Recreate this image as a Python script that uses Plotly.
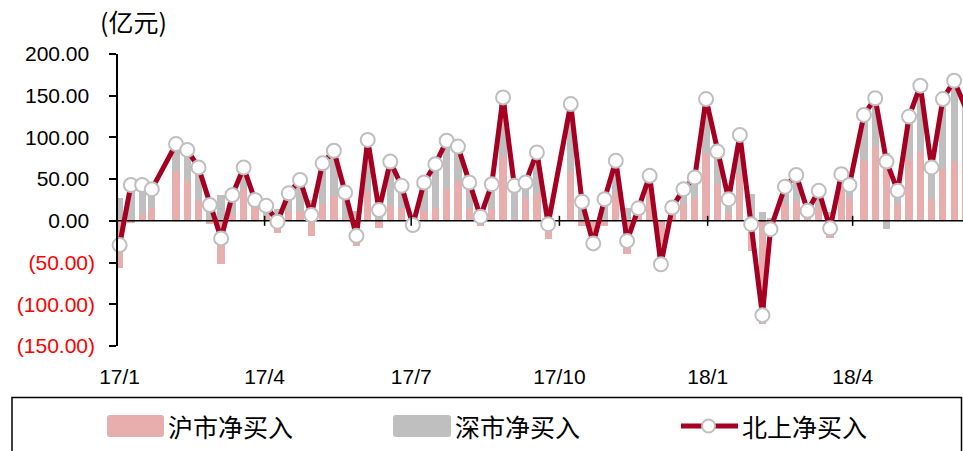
import plotly.graph_objects as go

# ---------------- data ----------------
dates = [
    "2017-01-06", "2017-01-13", "2017-01-20", "2017-01-26", "2017-02-10", "2017-02-17",
    "2017-02-24", "2017-03-03", "2017-03-10", "2017-03-17", "2017-03-24", "2017-03-31",
    "2017-04-07", "2017-04-14", "2017-04-21", "2017-04-28", "2017-05-05", "2017-05-12",
    "2017-05-19", "2017-05-26", "2017-06-02", "2017-06-09", "2017-06-16", "2017-06-23",
    "2017-06-30", "2017-07-07", "2017-07-14", "2017-07-21", "2017-07-28", "2017-08-04",
    "2017-08-11", "2017-08-18", "2017-08-25", "2017-09-01", "2017-09-08", "2017-09-15",
    "2017-09-22", "2017-09-29", "2017-10-13", "2017-10-20", "2017-10-27", "2017-11-03",
    "2017-11-10", "2017-11-17", "2017-11-24", "2017-12-01", "2017-12-08", "2017-12-15",
    "2017-12-22", "2017-12-29", "2018-01-05", "2018-01-12", "2018-01-19", "2018-01-26",
    "2018-02-02", "2018-02-09", "2018-02-14", "2018-02-23", "2018-03-02", "2018-03-09",
    "2018-03-16", "2018-03-23", "2018-03-30", "2018-04-04", "2018-04-13", "2018-04-20",
    "2018-04-27", "2018-05-04", "2018-05-11", "2018-05-18", "2018-05-25", "2018-06-01",
    "2018-06-08", "2018-06-15",
]
hu_net = [
    -56, -3, 8, 16, 60, 48, 24, -4, -52, 8, 38, 18,
    6, -15, 12, 12, -18, 20, 30, 4, -30, 36, -8, 18,
    16, -8, 12, 16, 38, 48, 16, -6, 14, 78, 2, 28,
    32, -22, 60, -6, -20, -6, 32, -40, 6, 38, -46, 8,
    20, 28, 80, 44, 10, 56, -36, -124, -13, 20, 24, 6,
    18, -20, 44, 28, 72, 88, 81, 20, 74, 84, 26, 62,
    72, 70,
]
shen_net = [
    27, 46, 35, 22, 32, 37, 40, 23, 31, 23, 26, 7,
    12, 14, 21, 37, 25, 49, 54, 30, 12, 61, 21, 53,
    26, 3, 34, 52, 58, 41, 30, 11, 30, 70, 40, 18,
    50, 18, 80, 29, -7, 32, 40, 16, 9, 16, -6, 8,
    18, 24, 66, 39, 16, 47, 32, 11, 3, 21, 31, 6,
    18, 11, 12, 15, 55, 59, -10, 16, 51, 78, 38, 84,
    96, 66,
]
north_net = [
    -29, 43, 43, 38, 92, 85, 64, 19, -21, 31, 64, 25,
    18, -1, 33, 49, 7, 69, 84, 34, -18, 97, 13, 71,
    42, -5, 46, 68, 96, 89, 46, 5, 44, 148, 42, 46,
    82, -4, 140, 23, -27, 26, 72, -24, 15, 54, -52, 16,
    38, 52, 146, 83, 26, 103, -4, -113, -10, 41, 55, 12,
    36, -9, 56, 43, 127, 147, 71, 36, 125, 162, 64, 146,
    168, 136,
]
series_names = ["沪市净买入", "深市净买入", "北上净买入"]
unit_label = "(亿元)"

x_tick_vals = ["2017-01-06", "2017-04-06", "2017-07-06", "2017-10-06", "2018-01-06", "2018-04-06"]
x_tick_text = ["17/1", "17/4", "17/7", "17/10", "18/1", "18/4"]
y_tick_vals = [-150, -100, -50, 0, 50, 100, 150, 200]

# ---------------- styling ----------------
W, H = 963, 451
L, R, T, B = 118, 0, 54, 105
X_RANGE = ["2017-01-05", "2018-06-13 12:00"]
Y_RANGE = [-150, 200]
PINK = "#E8AEAD"
GRAY = "#BFBFBF"
RED = "#A50021"
NUM_FONT = "Liberation Sans, Arial, sans-serif"
CJK_FONT = "Noto Sans CJK SC, sans-serif"
BAR_W = 4.5 * 86400000  # ms


def y_label(v):
    if v < 0:
        return '<span style="color:#FF0000">(%.2f)</span>' % abs(v)
    return "%.2f\u00a0" % v


def px_x(px):
    return (px - L) / (W - L - R)


def px_y(py):
    return (H - B - py) / (H - T - B)


def rounded_rect(x0, y0, x1, y1, r):
    pts = [
        ("M", [(x0 + r, y0)]), ("L", [(x1 - r, y0)]), ("Q", [(x1, y0), (x1, y0 + r)]),
        ("L", [(x1, y1 - r)]), ("Q", [(x1, y1), (x1 - r, y1)]), ("L", [(x0 + r, y1)]),
        ("Q", [(x0, y1), (x0, y1 - r)]), ("L", [(x0, y0 + r)]), ("Q", [(x0, y0), (x0 + r, y0)]),
    ]
    s = ""
    for cmd, ps in pts:
        s += cmd + " ".join("%.5f,%.5f" % (px_x(a), px_y(b)) for a, b in ps) + " "
    return s + "Z"


fig = go.Figure()
fig.add_trace(go.Bar(x=dates, y=hu_net, name=series_names[0], marker_color=PINK,
                     width=BAR_W, marker_line_width=0, showlegend=False))
fig.add_trace(go.Bar(x=dates, y=shen_net, name=series_names[1], marker_color=GRAY,
                     width=BAR_W, marker_line_width=0, showlegend=False))
# horizontal category axis line at zero (between bars and line)
fig.add_trace(go.Scatter(x=X_RANGE, y=[0, 0], mode="lines", line=dict(color="black", width=1.5),
                         hoverinfo="skip", showlegend=False))
fig.add_trace(go.Scatter(x=dates, y=north_net, name=series_names[2], mode="lines+markers",
                         line=dict(color=RED, width=5),
                         marker=dict(size=14, color="white", line=dict(color=GRAY, width=2)),
                         cliponaxis=False, showlegend=False))

shapes = []
# tick marks crossing the zero line
for tv in x_tick_vals[1:]:
    shapes.append(dict(type="line", xref="x", yref="y", x0=tv, x1=tv, y0=-6, y1=6,
                       line=dict(color="black", width=1.5), layer="above"))
# legend frame
shapes.append(dict(type="rect", xref="paper", yref="paper",
                   x0=px_x(12), x1=px_x(961.5), y0=px_y(460), y1=px_y(397.5),
                   line=dict(color="black", width=1.5), fillcolor="rgba(0,0,0,0)"))
# legend swatches
shapes.append(dict(type="path", xref="paper", yref="paper", path=rounded_rect(107, 415, 164, 437, 3),
                   fillcolor=PINK, line=dict(width=0)))
shapes.append(dict(type="path", xref="paper", yref="paper", path=rounded_rect(393, 415, 451, 437, 3),
                   fillcolor=GRAY, line=dict(width=0)))
shapes.append(dict(type="line", xref="paper", yref="paper", x0=px_x(681), x1=px_x(738),
                   y0=px_y(426), y1=px_y(426), line=dict(color=RED, width=5)))
shapes.append(dict(type="circle", xref="paper", yref="paper", x0=px_x(702), x1=px_x(715),
                   y0=px_y(432.5), y1=px_y(419.5), fillcolor="white", line=dict(color=GRAY, width=2)))

annotations = [
    dict(text=unit_label, xref="paper", yref="paper", x=px_x(98), y=px_y(21), xanchor="left",
         yanchor="middle", showarrow=False, font=dict(family=CJK_FONT, size=25, color="black")),
]
for txt, xpx in zip(series_names, [166, 453, 740]):
    annotations.append(dict(text=txt, xref="paper", yref="paper", x=px_x(xpx), y=px_y(426),
                            xanchor="left", yanchor="middle", showarrow=False,
                            font=dict(family=CJK_FONT, size=25, color="black")))

fig.update_layout(
    width=W, height=H, margin=dict(l=L, r=R, t=T, b=B, pad=0),
    paper_bgcolor="white", plot_bgcolor="white",
    barmode="relative", bargap=0,
    shapes=shapes, annotations=annotations, showlegend=False,
    xaxis=dict(type="date", range=X_RANGE, tickvals=x_tick_vals, ticktext=x_tick_text,
               showgrid=False, zeroline=False, showline=False, ticks="",
               ticklabelstandoff=16,
               tickfont=dict(family=NUM_FONT, size=21, color="black")),
    yaxis=dict(range=Y_RANGE, tickvals=y_tick_vals, ticktext=[y_label(v) for v in y_tick_vals],
               showgrid=False, zeroline=False, showline=True, linecolor="black", linewidth=1.5,
               ticks="outside", ticklen=7, tickwidth=1.5, tickcolor="black",
               ticklabelstandoff=10,
               tickfont=dict(family=NUM_FONT, size=21, color="black")),
)

fig.write_html("out.html", config={"displayModeBar": False},
               post_script="document.body.style.margin='0';document.body.style.overflow='hidden';")
